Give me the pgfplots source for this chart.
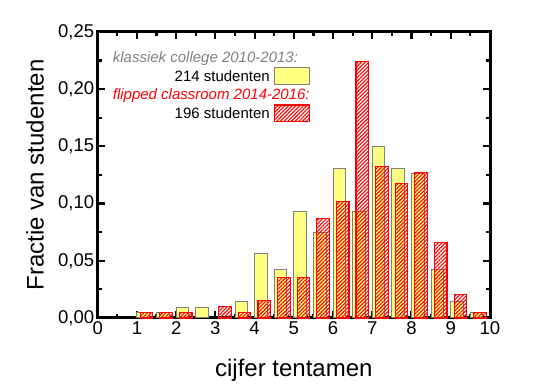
\documentclass[border=0pt]{standalone}
\usepackage{fontspec}
\setmainfont{Liberation Sans}
\usepackage{pgfplots}
\pgfplotsset{compat=1.18}
\usetikzlibrary{patterns.meta}
\definecolor{yfill}{RGB}{255,255,128}
\definecolor{ygray}{RGB}{128,128,128}

\pgfplotstableread{
x    y
1.16 0.00467
1.66 0.00467
2.16 0.00935
2.66 0.00935
3.66 0.01402
4.16 0.05607
4.66 0.04206
5.16 0.09346
5.66 0.07477
6.16 0.13084
6.66 0.09346
7.16 0.14953
7.66 0.13084
8.16 0.12617
8.66 0.04206
9.16 0.01402
9.66 0.00467
}\klassiek

\pgfplotstableread{
x     y
1.245 0.00510
1.745 0.00510
2.245 0.00510
3.245 0.01020
3.745 0.00510
4.245 0.01531
4.745 0.03571
5.245 0.03571
5.745 0.08673
6.245 0.10204
6.745 0.22449
7.245 0.13265
7.745 0.11735
8.245 0.12755
8.745 0.06633
9.245 0.02041
9.745 0.00510
}\flipped

\begin{document}
\begin{tikzpicture}
\begin{axis}[
  scale only axis,
  width=392.3pt, height=286pt,
  xmin=0, xmax=10, ymin=0, ymax=0.25,
  xtick={0,1,...,10},
  ytick={0,0.05,0.10,0.15,0.20,0.25},
  minor x tick num=1,
  minor y tick num=1,
  tick align=inside,
  major tick length=7pt,
  minor tick length=4pt,
  tick style={line width=2.2pt, black},
  axis line style={line width=3pt, line cap=rect, line join=miter},
  /pgf/number format/assume math mode=true,
  yticklabel style={/pgf/number format/.cd, fixed, fixed zerofill, precision=2, use comma},
  xticklabel style={/pgf/number format/.cd, fixed, precision=0},
  ticklabel style={font=\fontsize{18.5}{20}\selectfont},
  xtick distance=1,
  xlabel={cijfer tentamen},
  ylabel={Fractie van studenten},
  label style={font=\fontsize{24}{26}\selectfont},
  xlabel style={at={(axis description cs:0.5,-0.206)}, anchor=base},
  ylabel style={at={(axis description cs:-0.16,0.5)}, anchor=center, rotate=0},
  clip=false,
]
\coordinate (sw) at (rel axis cs:0,0);
\addplot[ybar, bar shift=0pt, bar width=0.32, fill=yfill, draw=ygray, line width=1pt]
  table[x=x, y=y] {\klassiek};
\addplot[ybar, bar shift=0pt, bar width=0.32, draw=red, line width=1.1pt,
  pattern={Lines[angle=45, distance=2.6pt, line width=1.1pt]}, pattern color=red]
  table[x=x, y=y] {\flipped};

\node[anchor=base west, text=ygray, font=\fontsize{15}{17}\selectfont\itshape, inner sep=0pt]
  at (axis cs:0.382,0.2235) {klassiek college 2010-2013:};
\node[anchor=base east, font=\fontsize{15}{17}\selectfont, inner sep=0pt]
  at (axis cs:4.392,0.2066) {214 studenten};
\node[anchor=base west, text=red, font=\fontsize{15}{17}\selectfont\itshape, inner sep=0pt]
  at (axis cs:0.382,0.1906) {flipped classroom 2014-2016:};
\node[anchor=base east, font=\fontsize{15}{17}\selectfont, inner sep=0pt]
  at (axis cs:4.392,0.174) {196 studenten};
\draw[fill=yfill, draw=ygray, line width=1pt] (axis cs:4.497,0.2043) rectangle (axis cs:5.389,0.2188);
\draw[draw=red, line width=1.1pt, pattern={Lines[angle=45, distance=2.6pt, line width=1.1pt]}, pattern color=red]
  (axis cs:4.497,0.1716) rectangle (axis cs:5.389,0.1862);
\end{axis}
\pgfresetboundingbox
\path (sw) ++(-97.7pt,-69pt) rectangle ++(536pt,387pt);
\end{tikzpicture}
\end{document}
